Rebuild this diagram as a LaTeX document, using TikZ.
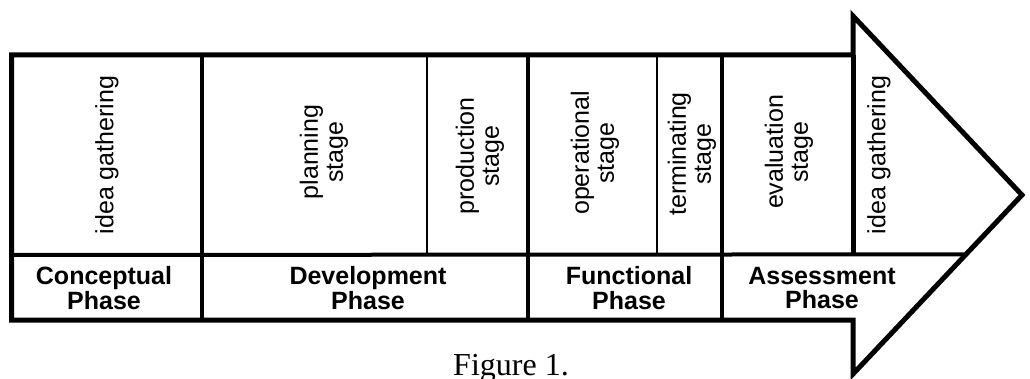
\documentclass[tikz,border=0pt]{standalone}
\usepackage{fontspec}
\setmainfont{Liberation Serif}
\newfontfamily\arialish{Liberation Sans}
\usetikzlibrary{calc}
\begin{document}
\begin{tikzpicture}[x=1pt,y=-1pt,
  stagetxt/.style={rotate=90,align=center,inner sep=0pt,
    font=\arialish\fontsize{25}{25}\selectfont},
  phasetxt/.style={align=center,inner sep=0pt,
    font=\arialish\bfseries\fontsize{25}{24.5}\selectfont},
  outline/.style={line width=5pt,line join=miter,miter limit=10},
  thickdiv/.style={line width=4.5pt},
  thindiv/.style={line width=2.2pt}]
\useasboundingbox (0,0) rectangle (1030,379);
% corners of the arrow
\coordinate (tl) at (11.5,55);
\coordinate (hs) at (853,55);
\coordinate (ht) at (853,16);
\coordinate (tip) at (1022,195);
\coordinate (hb) at (853,374);
\coordinate (bs) at (853,320);
\coordinate (bl) at (11.5,320);
\coordinate (ml) at (11.5,255);
\coordinate (mr) at ($(tip)!0.3315!(hb)$);
\coordinate (mh) at (853,255);
% outline
\draw[outline] (tl) -- (hs) -- (ht) -- (tip) -- (hb) -- (bs) -- (bl) -- cycle;
% middle band line
\draw[line width=4pt] (ml) -- (mr);
% thick dividers (full height)
\foreach \xx/\nm in {202/a,528/b,722/c}{
  \coordinate (t\nm) at (\xx,55);
  \coordinate (b\nm) at (\xx,320);
  \draw[thickdiv] (t\nm) -- (b\nm);
}
% thin dividers (upper band)
\foreach \xx/\nm in {427/d,657/e}{
  \coordinate (t\nm) at (\xx,55);
  \coordinate (m\nm) at (\xx,255);
  \draw[thindiv] (t\nm) -- (m\nm);
}
% arrowhead divider
\draw[line width=5pt] (hs) -- (mh);
% stage texts
\node[stagetxt] (ig1) at (107,155) {idea gathering};
\node[stagetxt] (plan) at (324,152) {planning\\stage};
\node[stagetxt] (prod) at (480,156) {production\\stage};
\node[stagetxt] (oper) at (595,153) {operational\\stage};
\node[stagetxt] (term) at (692,154) {terminating\\stage};
\node[stagetxt] (eval) at (789,152) {evaluation\\stage};
\node[stagetxt] (ig2) at (879,155) {idea gathering};
% phase texts
\node[phasetxt] (ph1) at (104,288) {Conceptual\\Phase};
\node[phasetxt] (ph2) at (368,288) {Development\\Phase};
\node[phasetxt] (ph3) at (629,288) {Functional\\Phase};
\node[phasetxt] (ph4) at (822,288) {Assessment\\Phase};
% caption
\node[inner sep=0pt,anchor=base,font=\fontsize{32}{36}\selectfont] (cap) at (511,375) {Figure 1.};
\end{tikzpicture}
\end{document}
